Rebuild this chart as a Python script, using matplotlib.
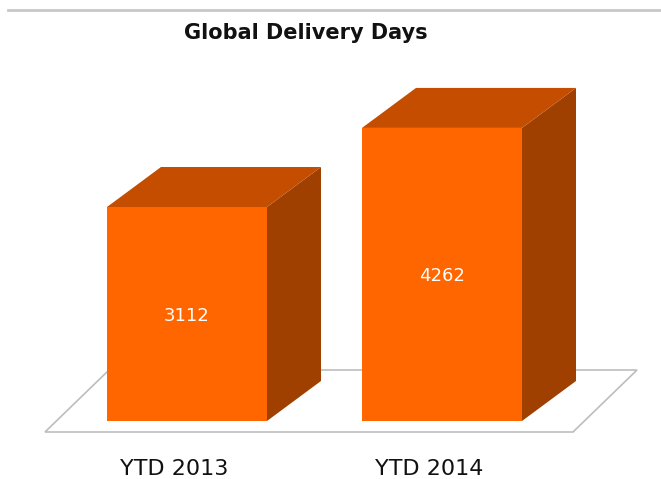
import matplotlib
matplotlib.use("Agg")
import matplotlib.pyplot as plt
from matplotlib.patches import Polygon
from matplotlib.lines import Line2D

title = "Global Delivery Days"
categories = ["YTD 2013", "YTD 2014"]
values = [3112, 4262]

front_c = "#FF6600"
top_c = "#C44D00"
side_c = "#A04000"

fig = plt.figure(figsize=(6.61, 4.79), dpi=100)
ax = fig.add_axes([0, 0, 1, 1])
# pixel-calibrated data space: x = category index, y = value
px_per_x = 255.0
px_per_y = 214.0 / 3112
x0_px, base_px = 187.0, 421.0
ax.set_xlim((0 - x0_px) / px_per_x, (661 - x0_px) / px_per_x)
ax.set_ylim((base_px - 479) / px_per_y, (base_px - 0) / px_per_y)
ax.axis("off")

width = 160 / px_per_x
dx = 54 / px_per_x
dy = 40 / px_per_y

# floor
fy0 = (base_px - 432) / px_per_y
fy1 = (base_px - 370) / px_per_y
fxl = (45 - x0_px) / px_per_x
fxr = (573 - x0_px) / px_per_x
fsh = 64 / px_per_x
ax.add_patch(Polygon([(fxl, fy0), (fxr, fy0), (fxr + fsh, fy1), (fxl + fsh, fy1)],
                     closed=True, facecolor="white", edgecolor="#BDBDBD", lw=1.2, zorder=1))

label_shift = -13 / px_per_x
for i, (cat, v) in enumerate(zip(categories, values)):
    xl = i - width / 2
    xr = i + width / 2
    ax.add_patch(Polygon([(xr, 0), (xr + dx, dy), (xr + dx, v + dy), (xr, v)],
                         closed=True, facecolor=side_c, edgecolor="none", zorder=2))
    ax.add_patch(Polygon([(xl, v), (xr, v), (xr + dx, v + dy), (xl + dx, v + dy)],
                         closed=True, facecolor=top_c, edgecolor="none", zorder=2))
    ax.add_patch(Polygon([(xl, 0), (xr, 0), (xr, v), (xl, v)],
                         closed=True, facecolor=front_c, edgecolor="none", zorder=3))
    ax.text(i, v / 2 - 2 / px_per_y, str(v), color="white", ha="center", va="center",
            fontsize=13, zorder=4)
    ax.text(i + label_shift, (base_px - 469) / px_per_y, cat, ha="center", va="center",
            fontsize=16, color="#111111")

fig.add_artist(Line2D([8 / 661, 1], [1 - 10 / 479, 1 - 10 / 479], color="#C8C8C8", lw=2))
fig.text(306 / 661, 1 - 33 / 479, title, ha="center", va="center", fontsize=15,
         fontweight="bold", color="#111111")

fig.savefig("out.png", dpi=100)
